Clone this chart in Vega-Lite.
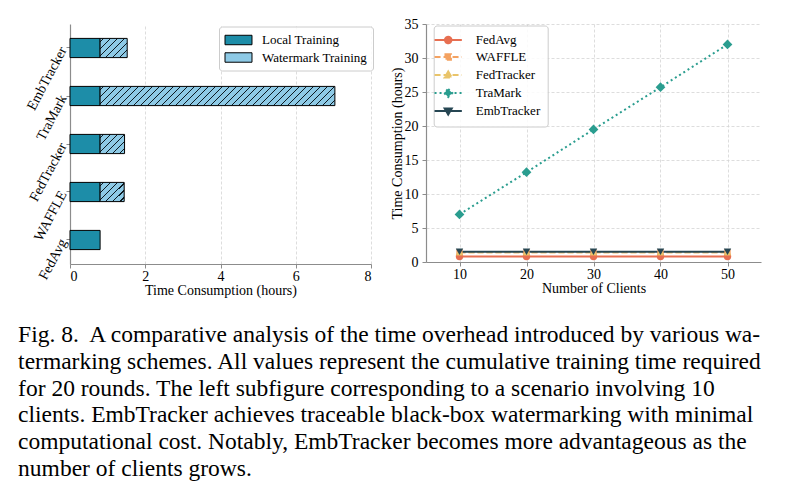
{
  "$schema": "https://vega.github.io/schema/vega-lite/v6.json",
  "background": "white",
  "padding": {"left": 18, "top": 17, "right": 10, "bottom": 5},
  "config": {
    "font": "Liberation Serif",
    "view": {"stroke": null},
    "axis": {
      "labelFont": "Liberation Serif", "titleFont": "Liberation Serif",
      "labelFontSize": 14, "titleFontSize": 14, "titleFontWeight": "normal",
      "labelColor": "#000", "titleColor": "#000",
      "domainColor": "#8c8c8c", "domainWidth": 1.2,
      "tickColor": "#8c8c8c", "tickSize": 4, "tickWidth": 1,
      "gridColor": "#d4d4d4", "gridDash": [3, 2], "gridWidth": 0.8
    },
    "legend": {"labelFont": "Liberation Serif", "labelFontSize": 13, "labelColor": "#000"}
  },
  "bounds": "flush",
  "spacing": 55,
  "title": {
    "text": [
      "Fig. 8.\u00a0 A comparative analysis of the time overhead introduced by various wa-",
      "termarking schemes. All values represent the cumulative training time required",
      "for 20 rounds. The left subfigure corresponding to a scenario involving 10",
      "clients. EmbTracker achieves traceable black-box watermarking with minimal",
      "computational cost. Notably, EmbTracker becomes more advantageous as the",
      "number of clients grows."
    ],
    "orient": "bottom", "anchor": "start", "frame": "bounds",
    "font": "Liberation Serif", "fontSize": 23.5, "fontWeight": "normal",
    "lineHeight": 26.8, "color": "#000", "offset": 26, "dx": -6.1
  },
  "resolve": {
    "scale": {"color": "independent", "fill": "independent", "stroke": "independent", "shape": "independent", "strokeDash": "independent"},
    "legend": {"color": "independent", "fill": "independent", "stroke": "independent", "shape": "independent", "strokeDash": "independent"}
  },
  "hconcat": [
    {
      "width": 301,
      "height": 240,
      "data": {
        "values": [
          {"method": "EmbTracker", "local": 0.8, "total": 1.52},
          {"method": "TraMark", "local": 0.8, "total": 7.04},
          {"method": "FedTracker", "local": 0.8, "total": 1.45},
          {"method": "WAFFLE", "local": 0.8, "total": 1.44},
          {"method": "FedAvg", "local": 0.8, "total": 0.8}
        ]
      },
      "encoding": {
        "y": {
          "field": "method", "type": "nominal",
          "sort": ["EmbTracker", "TraMark", "FedTracker", "WAFFLE", "FedAvg"],
          "scale": {"paddingInner": 0.6, "paddingOuter": 0.3},
          "axis": {"title": null, "labelAngle": -62, "labelAlign": "right", "labelBaseline": "middle", "labelFontSize": 14, "grid": false, "labelPadding": 3}
        }
      },
      "layer": [
        {
          "mark": {"type": "bar", "stroke": "#000", "strokeWidth": 1},
          "encoding": {
            "x": {
              "field": "local", "type": "quantitative",
              "scale": {"domain": [0, 8], "nice": false},
              "axis": {"values": [0, 2, 4, 6, 8], "title": "Time Consumption (hours)", "grid": true, "labelPadding": 1, "titlePadding": 0}
            },
            "fill": {
              "datum": "Local Training",
              "scale": {"domain": ["Local Training", "Watermark Training"], "range": ["#1d8da8", "#8ecae6"]},
              "legend": {
                "title": null, "orient": "none", "legendX": 149, "legendY": 2.5,
                "symbolType": "M-2,-0.7H2V0.7H-2Z", "symbolSize": 182,
                "symbolStrokeColor": "#000", "symbolStrokeWidth": 1,
                "padding": 6, "rowPadding": 2.5, "labelOffset": 16, "symbolOffset": 6,
                "strokeColor": "#cccccc", "fillColor": "rgba(255,255,255,0.85)", "cornerRadius": 3
              }
            }
          }
        },
        {
          "transform": [{"filter": "datum.total > datum.local"}],
          "mark": {"type": "bar", "stroke": "#000", "strokeWidth": 1},
          "encoding": {
            "x": {"field": "local", "type": "quantitative"},
            "x2": {"field": "total"},
            "fill": {
              "condition": [
                {
                  "test": "datum.method === 'TraMark'",
                  "value": {
                    "gradient": "linear", "x1": 0, "y1": 0, "x2": 1.0747, "y2": 0.088,
                    "stops": [
                      {"offset": 0.0110, "color": "#8ecae6"}, {"offset": 0.0110, "color": "#0b1a22"}, {"offset": 0.0166, "color": "#0b1a22"}, {"offset": 0.0166, "color": "#8ecae6"},
                      {"offset": 0.0386, "color": "#8ecae6"}, {"offset": 0.0386, "color": "#0b1a22"}, {"offset": 0.0442, "color": "#0b1a22"}, {"offset": 0.0442, "color": "#8ecae6"},
                      {"offset": 0.0662, "color": "#8ecae6"}, {"offset": 0.0662, "color": "#0b1a22"}, {"offset": 0.0718, "color": "#0b1a22"}, {"offset": 0.0718, "color": "#8ecae6"},
                      {"offset": 0.0938, "color": "#8ecae6"}, {"offset": 0.0938, "color": "#0b1a22"}, {"offset": 0.0994, "color": "#0b1a22"}, {"offset": 0.0994, "color": "#8ecae6"},
                      {"offset": 0.1214, "color": "#8ecae6"}, {"offset": 0.1214, "color": "#0b1a22"}, {"offset": 0.1270, "color": "#0b1a22"}, {"offset": 0.1270, "color": "#8ecae6"},
                      {"offset": 0.1490, "color": "#8ecae6"}, {"offset": 0.1490, "color": "#0b1a22"}, {"offset": 0.1546, "color": "#0b1a22"}, {"offset": 0.1546, "color": "#8ecae6"},
                      {"offset": 0.1766, "color": "#8ecae6"}, {"offset": 0.1766, "color": "#0b1a22"}, {"offset": 0.1822, "color": "#0b1a22"}, {"offset": 0.1822, "color": "#8ecae6"},
                      {"offset": 0.2042, "color": "#8ecae6"}, {"offset": 0.2042, "color": "#0b1a22"}, {"offset": 0.2098, "color": "#0b1a22"}, {"offset": 0.2098, "color": "#8ecae6"},
                      {"offset": 0.2317, "color": "#8ecae6"}, {"offset": 0.2317, "color": "#0b1a22"}, {"offset": 0.2373, "color": "#0b1a22"}, {"offset": 0.2373, "color": "#8ecae6"},
                      {"offset": 0.2593, "color": "#8ecae6"}, {"offset": 0.2593, "color": "#0b1a22"}, {"offset": 0.2649, "color": "#0b1a22"}, {"offset": 0.2649, "color": "#8ecae6"},
                      {"offset": 0.2869, "color": "#8ecae6"}, {"offset": 0.2869, "color": "#0b1a22"}, {"offset": 0.2925, "color": "#0b1a22"}, {"offset": 0.2925, "color": "#8ecae6"},
                      {"offset": 0.3145, "color": "#8ecae6"}, {"offset": 0.3145, "color": "#0b1a22"}, {"offset": 0.3201, "color": "#0b1a22"}, {"offset": 0.3201, "color": "#8ecae6"},
                      {"offset": 0.3421, "color": "#8ecae6"}, {"offset": 0.3421, "color": "#0b1a22"}, {"offset": 0.3477, "color": "#0b1a22"}, {"offset": 0.3477, "color": "#8ecae6"},
                      {"offset": 0.3697, "color": "#8ecae6"}, {"offset": 0.3697, "color": "#0b1a22"}, {"offset": 0.3753, "color": "#0b1a22"}, {"offset": 0.3753, "color": "#8ecae6"},
                      {"offset": 0.3973, "color": "#8ecae6"}, {"offset": 0.3973, "color": "#0b1a22"}, {"offset": 0.4029, "color": "#0b1a22"}, {"offset": 0.4029, "color": "#8ecae6"},
                      {"offset": 0.4249, "color": "#8ecae6"}, {"offset": 0.4249, "color": "#0b1a22"}, {"offset": 0.4305, "color": "#0b1a22"}, {"offset": 0.4305, "color": "#8ecae6"},
                      {"offset": 0.4525, "color": "#8ecae6"}, {"offset": 0.4525, "color": "#0b1a22"}, {"offset": 0.4581, "color": "#0b1a22"}, {"offset": 0.4581, "color": "#8ecae6"},
                      {"offset": 0.4801, "color": "#8ecae6"}, {"offset": 0.4801, "color": "#0b1a22"}, {"offset": 0.4857, "color": "#0b1a22"}, {"offset": 0.4857, "color": "#8ecae6"},
                      {"offset": 0.5077, "color": "#8ecae6"}, {"offset": 0.5077, "color": "#0b1a22"}, {"offset": 0.5133, "color": "#0b1a22"}, {"offset": 0.5133, "color": "#8ecae6"},
                      {"offset": 0.5353, "color": "#8ecae6"}, {"offset": 0.5353, "color": "#0b1a22"}, {"offset": 0.5409, "color": "#0b1a22"}, {"offset": 0.5409, "color": "#8ecae6"},
                      {"offset": 0.5628, "color": "#8ecae6"}, {"offset": 0.5628, "color": "#0b1a22"}, {"offset": 0.5684, "color": "#0b1a22"}, {"offset": 0.5684, "color": "#8ecae6"},
                      {"offset": 0.5904, "color": "#8ecae6"}, {"offset": 0.5904, "color": "#0b1a22"}, {"offset": 0.5960, "color": "#0b1a22"}, {"offset": 0.5960, "color": "#8ecae6"},
                      {"offset": 0.6180, "color": "#8ecae6"}, {"offset": 0.6180, "color": "#0b1a22"}, {"offset": 0.6236, "color": "#0b1a22"}, {"offset": 0.6236, "color": "#8ecae6"},
                      {"offset": 0.6456, "color": "#8ecae6"}, {"offset": 0.6456, "color": "#0b1a22"}, {"offset": 0.6512, "color": "#0b1a22"}, {"offset": 0.6512, "color": "#8ecae6"},
                      {"offset": 0.6732, "color": "#8ecae6"}, {"offset": 0.6732, "color": "#0b1a22"}, {"offset": 0.6788, "color": "#0b1a22"}, {"offset": 0.6788, "color": "#8ecae6"},
                      {"offset": 0.7008, "color": "#8ecae6"}, {"offset": 0.7008, "color": "#0b1a22"}, {"offset": 0.7064, "color": "#0b1a22"}, {"offset": 0.7064, "color": "#8ecae6"},
                      {"offset": 0.7284, "color": "#8ecae6"}, {"offset": 0.7284, "color": "#0b1a22"}, {"offset": 0.7340, "color": "#0b1a22"}, {"offset": 0.7340, "color": "#8ecae6"},
                      {"offset": 0.7560, "color": "#8ecae6"}, {"offset": 0.7560, "color": "#0b1a22"}, {"offset": 0.7616, "color": "#0b1a22"}, {"offset": 0.7616, "color": "#8ecae6"},
                      {"offset": 0.7836, "color": "#8ecae6"}, {"offset": 0.7836, "color": "#0b1a22"}, {"offset": 0.7892, "color": "#0b1a22"}, {"offset": 0.7892, "color": "#8ecae6"},
                      {"offset": 0.8112, "color": "#8ecae6"}, {"offset": 0.8112, "color": "#0b1a22"}, {"offset": 0.8168, "color": "#0b1a22"}, {"offset": 0.8168, "color": "#8ecae6"},
                      {"offset": 0.8388, "color": "#8ecae6"}, {"offset": 0.8388, "color": "#0b1a22"}, {"offset": 0.8444, "color": "#0b1a22"}, {"offset": 0.8444, "color": "#8ecae6"},
                      {"offset": 0.8664, "color": "#8ecae6"}, {"offset": 0.8664, "color": "#0b1a22"}, {"offset": 0.8720, "color": "#0b1a22"}, {"offset": 0.8720, "color": "#8ecae6"},
                      {"offset": 0.8939, "color": "#8ecae6"}, {"offset": 0.8939, "color": "#0b1a22"}, {"offset": 0.8995, "color": "#0b1a22"}, {"offset": 0.8995, "color": "#8ecae6"},
                      {"offset": 0.9215, "color": "#8ecae6"}, {"offset": 0.9215, "color": "#0b1a22"}, {"offset": 0.9271, "color": "#0b1a22"}, {"offset": 0.9271, "color": "#8ecae6"},
                      {"offset": 0.9491, "color": "#8ecae6"}, {"offset": 0.9491, "color": "#0b1a22"}, {"offset": 0.9547, "color": "#0b1a22"}, {"offset": 0.9547, "color": "#8ecae6"},
                      {"offset": 0.9767, "color": "#8ecae6"}, {"offset": 0.9767, "color": "#0b1a22"}, {"offset": 0.9823, "color": "#0b1a22"}, {"offset": 0.9823, "color": "#8ecae6"}
                    ]
                  }
                },
                {
                  "test": "datum.method === 'EmbTracker'",
                  "value": {
                    "gradient": "linear", "x1": 0, "y1": 0, "x2": 1.137, "y2": 0.807,
                    "stops": [
                      {"offset": 0.0606, "color": "#8ecae6"}, {"offset": 0.0606, "color": "#0b1a22"}, {"offset": 0.0908, "color": "#0b1a22"}, {"offset": 0.0908, "color": "#8ecae6"},
                      {"offset": 0.2119, "color": "#8ecae6"}, {"offset": 0.2119, "color": "#0b1a22"}, {"offset": 0.2421, "color": "#0b1a22"}, {"offset": 0.2421, "color": "#8ecae6"},
                      {"offset": 0.3633, "color": "#8ecae6"}, {"offset": 0.3633, "color": "#0b1a22"}, {"offset": 0.3935, "color": "#0b1a22"}, {"offset": 0.3935, "color": "#8ecae6"},
                      {"offset": 0.5146, "color": "#8ecae6"}, {"offset": 0.5146, "color": "#0b1a22"}, {"offset": 0.5448, "color": "#0b1a22"}, {"offset": 0.5448, "color": "#8ecae6"},
                      {"offset": 0.6660, "color": "#8ecae6"}, {"offset": 0.6660, "color": "#0b1a22"}, {"offset": 0.6962, "color": "#0b1a22"}, {"offset": 0.6962, "color": "#8ecae6"},
                      {"offset": 0.8173, "color": "#8ecae6"}, {"offset": 0.8173, "color": "#0b1a22"}, {"offset": 0.8475, "color": "#0b1a22"}, {"offset": 0.8475, "color": "#8ecae6"},
                      {"offset": 0.9687, "color": "#8ecae6"}, {"offset": 0.9687, "color": "#0b1a22"}, {"offset": 0.9989, "color": "#0b1a22"}, {"offset": 0.9989, "color": "#8ecae6"}
                    ]
                  }
                },
                {
                  "test": "datum.method === 'FedTracker'",
                  "value": {
                    "gradient": "linear", "x1": 0, "y1": 0, "x2": 1.1036, "y2": 0.8684,
                    "stops": [
                      {"offset": 0.0642, "color": "#8ecae6"}, {"offset": 0.0642, "color": "#0b1a22"}, {"offset": 0.0964, "color": "#0b1a22"}, {"offset": 0.0964, "color": "#8ecae6"},
                      {"offset": 0.2247, "color": "#8ecae6"}, {"offset": 0.2247, "color": "#0b1a22"}, {"offset": 0.2569, "color": "#0b1a22"}, {"offset": 0.2569, "color": "#8ecae6"},
                      {"offset": 0.3853, "color": "#8ecae6"}, {"offset": 0.3853, "color": "#0b1a22"}, {"offset": 0.4175, "color": "#0b1a22"}, {"offset": 0.4175, "color": "#8ecae6"},
                      {"offset": 0.5458, "color": "#8ecae6"}, {"offset": 0.5458, "color": "#0b1a22"}, {"offset": 0.5780, "color": "#0b1a22"}, {"offset": 0.5780, "color": "#8ecae6"},
                      {"offset": 0.7064, "color": "#8ecae6"}, {"offset": 0.7064, "color": "#0b1a22"}, {"offset": 0.7386, "color": "#0b1a22"}, {"offset": 0.7386, "color": "#8ecae6"},
                      {"offset": 0.8669, "color": "#8ecae6"}, {"offset": 0.8669, "color": "#0b1a22"}, {"offset": 0.8991, "color": "#0b1a22"}, {"offset": 0.8991, "color": "#8ecae6"}
                    ]
                  }
                }
              ],
              "value": {
                "gradient": "linear", "x1": 0, "y1": 0, "x2": 1.0929, "y2": 0.8854,
                "stops": [
                  {"offset": 0.0653, "color": "#8ecae6"}, {"offset": 0.0653, "color": "#0b1a22"}, {"offset": 0.0979, "color": "#0b1a22"}, {"offset": 0.0979, "color": "#8ecae6"},
                  {"offset": 0.2285, "color": "#8ecae6"}, {"offset": 0.2285, "color": "#0b1a22"}, {"offset": 0.2611, "color": "#0b1a22"}, {"offset": 0.2611, "color": "#8ecae6"},
                  {"offset": 0.3916, "color": "#8ecae6"}, {"offset": 0.3916, "color": "#0b1a22"}, {"offset": 0.4242, "color": "#0b1a22"}, {"offset": 0.4242, "color": "#8ecae6"},
                  {"offset": 0.5548, "color": "#8ecae6"}, {"offset": 0.5548, "color": "#0b1a22"}, {"offset": 0.5874, "color": "#0b1a22"}, {"offset": 0.5874, "color": "#8ecae6"},
                  {"offset": 0.7180, "color": "#8ecae6"}, {"offset": 0.7180, "color": "#0b1a22"}, {"offset": 0.7506, "color": "#0b1a22"}, {"offset": 0.7506, "color": "#8ecae6"},
                  {"offset": 0.8811, "color": "#8ecae6"}, {"offset": 0.8811, "color": "#0b1a22"}, {"offset": 0.9137, "color": "#0b1a22"}, {"offset": 0.9137, "color": "#8ecae6"}
                ]
              }
            }
          }
        }
      ]
    },
    {
      "width": 335,
      "height": 238,
      "data": {
        "values": [
          {"method": "FedAvg", "clients": 10, "hours": 0.8},
          {"method": "FedAvg", "clients": 20, "hours": 0.8},
          {"method": "FedAvg", "clients": 30, "hours": 0.8},
          {"method": "FedAvg", "clients": 40, "hours": 0.8},
          {"method": "FedAvg", "clients": 50, "hours": 0.8},
          {"method": "WAFFLE", "clients": 10, "hours": 1.44},
          {"method": "WAFFLE", "clients": 20, "hours": 1.44},
          {"method": "WAFFLE", "clients": 30, "hours": 1.44},
          {"method": "WAFFLE", "clients": 40, "hours": 1.44},
          {"method": "WAFFLE", "clients": 50, "hours": 1.44},
          {"method": "FedTracker", "clients": 10, "hours": 1.45},
          {"method": "FedTracker", "clients": 20, "hours": 1.45},
          {"method": "FedTracker", "clients": 30, "hours": 1.45},
          {"method": "FedTracker", "clients": 40, "hours": 1.45},
          {"method": "FedTracker", "clients": 50, "hours": 1.45},
          {"method": "TraMark", "clients": 10, "hours": 7.0},
          {"method": "TraMark", "clients": 20, "hours": 13.2},
          {"method": "TraMark", "clients": 30, "hours": 19.5},
          {"method": "TraMark", "clients": 40, "hours": 25.7},
          {"method": "TraMark", "clients": 50, "hours": 32.0},
          {"method": "EmbTracker", "clients": 10, "hours": 1.52},
          {"method": "EmbTracker", "clients": 20, "hours": 1.52},
          {"method": "EmbTracker", "clients": 30, "hours": 1.52},
          {"method": "EmbTracker", "clients": 40, "hours": 1.52},
          {"method": "EmbTracker", "clients": 50, "hours": 1.52}
        ]
      },
      "encoding": {
        "x": {
          "field": "clients", "type": "quantitative",
          "scale": {"domain": [5, 55], "nice": false},
          "axis": {"values": [10, 20, 30, 40, 50], "title": "Number of Clients", "grid": true, "labelPadding": 1, "titlePadding": 0}
        },
        "y": {
          "field": "hours", "type": "quantitative",
          "scale": {"domain": [0, 35], "nice": false},
          "axis": {"values": [0, 5, 10, 15, 20, 25, 30, 35], "title": "Time Consumption (hours)", "grid": true, "labelPadding": 4, "titlePadding": 0}
        }
      },
      "layer": [
        {
          "mark": {"type": "line", "strokeWidth": 2},
          "encoding": {
            "stroke": {
              "field": "method", "type": "nominal",
              "scale": {"domain": ["FedAvg", "WAFFLE", "FedTracker", "TraMark", "EmbTracker"], "range": ["#e76f51", "#f4a261", "#e9c46a", "#2a9d8f", "#264653"]},
              "legend": {"title": null, "orient": "none", "legendX": 7.7, "legendY": 1.5, "padding": 7, "rowPadding": 2, "labelOffset": 20, "symbolOffset": 0, "symbolSize": 169, "symbolStrokeWidth": 2, "symbolOpacity": 1, "strokeColor": "#cccccc", "fillColor": "rgba(255,255,255,0.85)", "cornerRadius": 3}
            },
            "strokeDash": {
              "field": "method", "type": "nominal",
              "scale": {"domain": ["FedAvg", "WAFFLE", "FedTracker", "TraMark", "EmbTracker"], "range": [[1, 0], [6, 3], [6, 3], [2, 3], [1, 0]]},
              "legend": {"title": null, "orient": "none", "legendX": 7.7, "legendY": 1.5, "padding": 7, "rowPadding": 2, "labelOffset": 20, "symbolOffset": 0, "symbolSize": 169, "symbolStrokeWidth": 2, "symbolOpacity": 1, "strokeColor": "#cccccc", "fillColor": "rgba(255,255,255,0.85)", "cornerRadius": 3}
            }
          }
        },
        {
          "mark": {"type": "point", "filled": true, "opacity": 1, "strokeWidth": 0},
          "encoding": {
            "fill": {
              "field": "method", "type": "nominal",
              "scale": {"domain": ["FedAvg", "WAFFLE", "FedTracker", "TraMark", "EmbTracker"], "range": ["#e76f51", "#f4a261", "#e9c46a", "#2a9d8f", "#264653"]},
              "legend": {"title": null, "orient": "none", "legendX": 7.7, "legendY": 1.5, "padding": 7, "rowPadding": 2, "labelOffset": 20, "symbolOffset": 0, "symbolSize": 169, "symbolStrokeWidth": 2, "symbolOpacity": 1, "strokeColor": "#cccccc", "fillColor": "rgba(255,255,255,0.85)", "cornerRadius": 3}
            },
            "shape": {
              "condition": [
                {"test": "datum.method === 'FedAvg'", "value": "circle"},
                {"test": "datum.method === 'WAFFLE'", "value": "square"},
                {"test": "datum.method === 'FedTracker'", "value": "triangle-up"},
                {"test": "datum.method === 'TraMark'", "value": "diamond"}
              ],
              "value": "triangle-down"
            },
            "size": {
              "condition": [
                {"test": "datum.method === 'TraMark'", "value": 95},
                {"test": "datum.method === 'WAFFLE'", "value": 40}
              ],
              "value": 55
            }
          }
        },
        {
          "mark": {"type": "point", "filled": true, "opacity": 0},
          "encoding": {
            "fill": {
              "field": "method", "type": "nominal",
              "legend": {"title": null, "orient": "none", "legendX": 7.7, "legendY": 1.5, "padding": 7, "rowPadding": 2, "labelOffset": 20, "symbolOffset": 0, "symbolSize": 169, "symbolStrokeWidth": 2, "symbolOpacity": 1, "strokeColor": "#cccccc", "fillColor": "rgba(255,255,255,0.85)", "cornerRadius": 3}
            },
            "stroke": {
              "field": "method", "type": "nominal",
              "legend": {"title": null, "orient": "none", "legendX": 7.7, "legendY": 1.5, "padding": 7, "rowPadding": 2, "labelOffset": 20, "symbolOffset": 0, "symbolSize": 169, "symbolStrokeWidth": 2, "symbolOpacity": 1, "strokeColor": "#cccccc", "fillColor": "rgba(255,255,255,0.85)", "cornerRadius": 3}
            },
            "strokeDash": {
              "field": "method", "type": "nominal",
              "legend": {"title": null, "orient": "none", "legendX": 7.7, "legendY": 1.5, "padding": 7, "rowPadding": 2, "labelOffset": 20, "symbolOffset": 0, "symbolSize": 169, "symbolStrokeWidth": 2, "symbolOpacity": 1, "strokeColor": "#cccccc", "fillColor": "rgba(255,255,255,0.85)", "cornerRadius": 3}
            },
            "shape": {
              "field": "method", "type": "nominal",
              "scale": {
                "domain": ["FedAvg", "WAFFLE", "FedTracker", "TraMark", "EmbTracker"],
                "range": [
                  "M-2.1,0H2.1M0.5,0A0.5,0.5,0,1,1,-0.5,0A0.5,0.5,0,1,1,0.5,0Z",
                  "M-2.1,0H2.1M-0.42,-0.42H0.42V0.42H-0.42Z",
                  "M-2.1,0H2.1M0,-0.55L0.55,0.4L-0.55,0.4Z",
                  "M-2.1,0H2.1M0,-0.62L0.62,0L0,0.62L-0.62,0Z",
                  "M-2.1,0H2.1M0,0.55L0.55,-0.4L-0.55,-0.4Z"
                ]
              },
              "legend": {"title": null, "orient": "none", "legendX": 7.7, "legendY": 1.5, "padding": 7, "rowPadding": 2, "labelOffset": 20, "symbolOffset": 0, "symbolSize": 169, "symbolStrokeWidth": 2, "symbolOpacity": 1, "strokeColor": "#cccccc", "fillColor": "rgba(255,255,255,0.85)", "cornerRadius": 3}
            }
          }
        }
      ]
    }
  ]
}
